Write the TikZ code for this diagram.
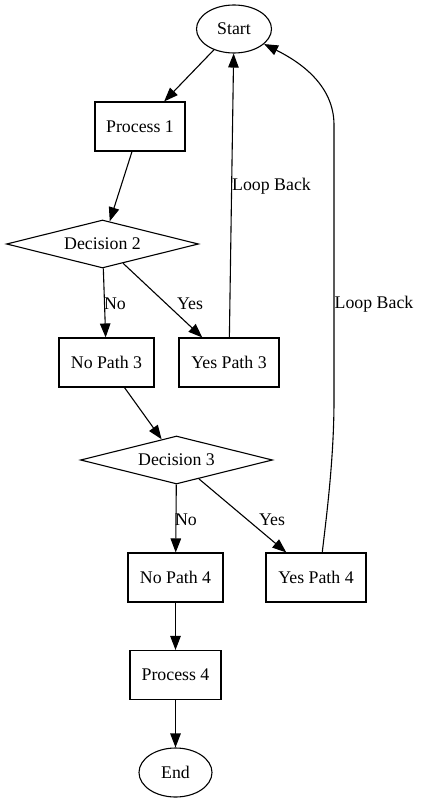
\documentclass[tikz,border=0pt]{standalone}
\usepackage{fontspec}
\setmainfont{Liberation Serif}
\usetikzlibrary{shapes.geometric,arrows.meta}
\tikzset{
  base/.style={draw=black, line width=1.1pt, inner sep=0pt, font=\fontsize{17.8}{20}\selectfont},
  procbox/.style={base, rectangle, minimum height=49pt},
  oval/.style={base, ellipse, minimum width=75pt, minimum height=48pt},
  decide/.style={base, diamond, shape aspect=4, minimum width=192pt, minimum height=48pt},
  conn/.style={line width=1.1pt, -{Triangle[length=14pt,width=10.5pt]}},
  lbl/.style={font=\fontsize{17.8}{20}\selectfont, inner sep=0pt}
}
\begin{document}
\begin{tikzpicture}[x=1pt,y=-1pt]
\useasboundingbox (0,0) rectangle (420,802);
\node[oval] (start) at (234,29) {Start};
\node[procbox, minimum width=90pt] (p1) at (140,126.5) {Process 1};
\node[decide] (d2) at (102.5,244) {Decision 2};
\node[procbox, minimum width=95pt] (np3) at (106.5,362.5) {No Path 3};
\node[procbox, minimum width=100pt] (yp3) at (229,362.5) {Yes Path 3};
\node[decide] (d3) at (176.5,460) {Decision 3};
\node[procbox, minimum width=95pt] (np4) at (175.5,577.5) {No Path 4};
\node[procbox, minimum width=100pt] (yp4) at (316,577.5) {Yes Path 4};
\node[procbox, minimum width=91pt] (p4) at (175.5,675) {Process 4};
\node[oval, minimum width=73pt, minimum height=49pt] (end) at (175.5,772.5) {End};

\draw[conn] (start) -- (p1);
\draw[conn] (p1) -- (d2);
\draw[conn] (d2) -- (np3);
\draw[conn] (d2) -- (yp3);
\draw[conn] (yp3) -- (start);
\draw[conn] (np3) -- (d3);
\draw[conn] (d3) -- (np4);
\draw[conn] (d3) -- (yp4);
\draw[conn] (np4) -- (p4);
\draw[conn] (p4) -- (end);
\draw[conn] (yp4.76) .. controls (326,520) and (334,460) .. (334,400) -- (334,125) .. controls (334,85) and (300,62) .. (start);

\node[lbl] (l1) at (115,304) {No};
\node[lbl] (l2) at (190,304) {Yes};
\node[lbl, anchor=west] (l3) at (232,186) {Loop Back};
\node[lbl, anchor=west] (l4) at (334.5,304) {Loop Back};
\node[lbl] (l5) at (186,520) {No};
\node[lbl] (l6) at (272,520) {Yes};
\end{tikzpicture}
\end{document}
